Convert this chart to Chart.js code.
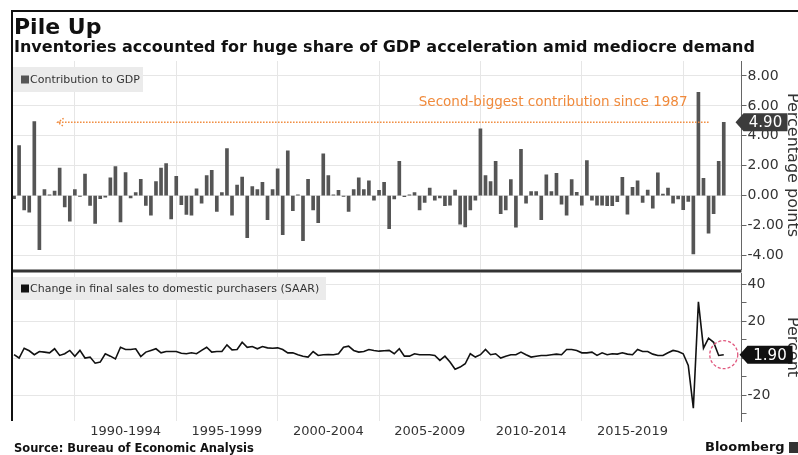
<!DOCTYPE html>
<html>
<head>
<meta charset="utf-8">
<script src="https://cdn.jsdelivr.net/npm/chart.js@4.4.1/dist/chart.umd.min.js"></script>
<style>
  html, body { margin: 0; padding: 0; background: #fff; }
  body { width: 798px; height: 455px; overflow: hidden; position: relative; font-family: "DejaVu Sans", sans-serif; color: #111; }
  canvas { position: absolute; left: 0; top: 0; }
  .frame-top { position: absolute; left: 11px; top: 10px; width: 787px; height: 2px; background: #111; }
  .frame-left { position: absolute; left: 11px; top: 10px; width: 2px; height: 411px; background: #111; }
  #title { position: absolute; left: 14px; top: 16px; font: bold 22px "DejaVu Sans"; line-height: 22px; white-space: nowrap; }
  #subtitle { position: absolute; left: 14px; top: 38.5px; font: bold 16px "DejaVu Sans"; line-height: 16px; white-space: nowrap; }
  #source { position: absolute; left: 14px; top: 443px; font: bold 11.5px "DejaVu Sans"; line-height: 11.5px; white-space: nowrap; }
  #brand { position: absolute; left: 705px; top: 440px; font: bold 13px "DejaVu Sans"; line-height: 13px; white-space: nowrap; }
  #logo { position: absolute; left: 789px; top: 442px; width: 10px; height: 11px; background: #333; }
</style>
</head>
<body>
<canvas id="top" width="802" height="455"></canvas>
<canvas id="bottom" width="802" height="455"></canvas>
<div class="frame-top"></div>
<div class="frame-left"></div>
<div id="title">Pile Up</div>
<div id="subtitle">Inventories accounted for huge share of GDP acceleration amid mediocre demand</div>
<div id="source">Source: Bureau of Economic Analysis</div>
<div id="brand">Bloomberg</div>
<div id="logo"></div>
<script>
// quarterly data, 1986 Q4 .. 2021 Q4 (bars sit at quarter end, like the original)
const contribution = [
  -0.2, 3.35, -0.95, -1.1, 4.95, -3.6, 0.4, 0.05, 0.3, 1.85,
  -0.75, -1.7, 0.4, -0.05, 1.45, -0.65, -1.85, -0.2, -0.1, 1.2,
  1.95, -1.75, 1.55, -0.15, 0.2, 1.1, -0.65, -1.3, 0.95, 1.85,
  2.15, -1.55, 1.3, -0.6, -1.25, -1.3, 0.45,
  -0.5, 1.35, 1.7, -1.05, 0.2, 3.15, -1.3, 0.7, 1.25, -2.8,
  0.6, 0.4, 0.9, -1.6, 0.4, 1.8, -2.6, 3.0, -1.0, 0.05,
  -3.0, 1.1, -0.95, -1.8, 2.8, 1.35, 0.05, 0.35, -0.05, -1.05,
  0.4, 1.2, 0.4, 1.0, -0.3, 0.35, 0.9,
  -2.2, -0.22, 2.3, -0.07, 0.05, 0.2, -0.96, -0.45, 0.5, -0.3,
  -0.15, -0.67, -0.63, 0.38, -1.9, -2.08, -0.96, -0.3, 4.47,
  1.35, 0.95, 2.3, -1.2, -0.96, 1.07, -2.1, 3.1, -0.5, 0.27,
  0.27, -1.6, 1.4, 0.27, 1.5, -0.56, -1.3,
  1.07, 0.22, -0.63, 2.35, -0.3, -0.63, -0.63, -0.67, -0.67, -0.4,
  1.23, -1.23, 0.56, 1.0, -0.45, 0.38, -0.83, 1.52, 0.1, 0.5,
  -0.5, -0.22, -0.94, -0.38, -3.9, 6.9, 1.16, -2.5, -1.2, 2.3,
  4.9
];

const finalSales = [
  1.9, 0.1, 5.4, 4.0, 1.9, 3.6, 3.3, 2.9, 5.1, 1.5,
  2.4, 4.2, 1.1, 4.2, 0.1, 0.6, -2.7, -2.1, 2.4, 1.1,
  -0.4, 5.9, 4.7, 4.7, 5.1, 0.9, 3.3, 4.2, 5.1, 2.9,
  3.6, 3.6, 3.6, 2.7, 2.4, 2.9, 2.4, 4.2, 5.9, 3.3,
  3.6, 3.6, 7.2, 4.5, 4.7, 8.6, 5.9, 6.3, 5.1, 6.3,
  5.6, 5.4, 5.6, 4.7, 2.9, 2.9, 1.9, 1.1, 0.6, 3.6,
  1.5, 1.9, 2.0, 1.9, 2.4, 5.9, 6.5, 4.2, 3.3, 3.6,
  4.7, 4.2, 3.8, 4.0, 4.2, 2.4,
  5.1, 1.1, 1.1, 2.4, 1.9, 1.9, 1.9, 1.5, -1.2, 1.1,
  -2.1, -6.0, -4.8, -3.0, 2.4, 0.6, 1.9, 4.7, 1.9, 2.4,
  0.1, 1.1, 1.9, 1.9, 3.3, 1.9, 0.6, 1.1, 1.5, 1.5,
  1.9, 2.2, 1.9, 4.7, 4.7, 4.2, 2.9, 2.9, 3.3, 1.5,
  2.9, 1.9, 2.4, 2.2, 2.9, 2.2, 1.9, 4.7, 3.6, 3.6,
  2.2, 1.5, 1.5, 2.9, 4.2, 3.6, 2.4,
  -3.9, -27, 30.4, 5.4, 10.8, 8.6, 1.5, 1.9
];

const firstYear = 1986, firstQuarter = 4;
const gridYears = [1990, 1995, 2000, 2005, 2010, 2015, 2020];
const periodLabels = ['1990-1994', '1995-1999', '2000-2004', '2005-2009', '2010-2014', '2015-2019'];
const topTicks = [-4, -3, -2, -1, 0, 1, 2, 3, 4, 5, 6, 7, 8];
const bottomTicks = [-30, -20, -10, 0, 10, 20, 30, 40];
const note = 'Second-biggest contribution since 1987';

const quarters = contribution.map((_, k) => {
  const q = firstQuarter - 1 + k;
  return `${firstYear + Math.floor(q / 4)} Q${q % 4 + 1}`;
});
const axisLabels = quarters.concat(['', '', '']);   // a little room after the last quarter
const gridIdx = gridYears.map(y => quarters.indexOf(`${y - 1} Q4`));
const labelAt = {};
periodLabels.forEach((txt, k) => { labelAt[quarters.indexOf(`${gridYears[k] + 2} Q2`)] = txt; });

const FONT = '"DejaVu Sans", sans-serif';
const AXIS_RIGHT = 741.5;
const CANVAS_W = 802;
const GRID = '#e6e6e6';

function xAxis(showLabels, height) {
  return {
    type: 'category',
    offset: true,
    grid: {
      offset: false,
      drawTicks: false,
      color: ctx => gridIdx.includes(ctx.index) ? GRID : 'transparent'
    },
    border: { display: false },
    ticks: {
      display: showLabels,
      autoSkip: false,
      maxRotation: 0,
      minRotation: 0,
      padding: 3,
      color: '#333',
      font: { family: FONT, size: 13 },
      callback: (v, i) => labelAt[i] || ''
    },
    afterFit: s => { s.height = height; }
  };
}

function yAxis(ticks, labelEvery, fmt, min, max, title) {
  return {
    position: 'right',
    min, max,
    afterBuildTicks: s => { s.ticks = ticks.map(v => ({ value: v })); },
    afterFit: s => { s.width = CANVAS_W - AXIS_RIGHT; },
    grid: {
      color: ctx => ctx.tick && ctx.tick.value % labelEvery === 0 ? GRID : 'transparent',
      tickColor: '#666',
      tickLength: 5
    },
    border: { color: '#666' },
    ticks: {
      padding: 1,
      color: '#333',
      font: { family: FONT, size: 14 },
      callback: v => v % labelEvery === 0 ? fmt(v) : ''
    },
    title: { display: true, text: title, color: '#333', padding: 0, font: { family: FONT, size: 16 } }
  };
}

function legendBox(ctx, x, y, w, h, text, swatch) {
  ctx.save();
  ctx.fillStyle = '#ebebeb';
  ctx.fillRect(x, y, w, h);
  ctx.fillStyle = swatch;
  ctx.fillRect(x + 8, y + h / 2 - 4, 8, 8);
  ctx.fillStyle = '#333';
  ctx.font = `11px ${FONT}`;
  ctx.textBaseline = 'middle';
  ctx.fillText(text, x + 17, y + h / 2 + 0.5);
  ctx.restore();
}

function valueTag(ctx, x, yc, w, text, fill) {
  ctx.save();
  ctx.fillStyle = fill;
  ctx.beginPath();
  ctx.moveTo(x, yc);
  ctx.lineTo(x + 8, yc - 9);
  ctx.lineTo(x + w, yc - 9);
  ctx.lineTo(x + w, yc + 9);
  ctx.lineTo(x + 8, yc + 9);
  ctx.closePath();
  ctx.fill();
  ctx.fillStyle = '#fff';
  ctx.font = `15px ${FONT}`;
  ctx.textBaseline = 'middle';
  ctx.textAlign = 'center';
  ctx.fillText(text, x + 8 + (w - 8) / 2, yc + 1);
  ctx.restore();
}

const topDecor = {
  id: 'topDecor',
  afterDraw(chart) {
    const { ctx, chartArea: a, scales: { x, y } } = chart;
    legendBox(ctx, a.left + 1.5, 67, 130, 25, 'Contribution to GDP', '#555');

    // dotted arrow back to the earlier peak
    const last = contribution[contribution.length - 1];
    const ly = y.getPixelForValue(last);
    const x0 = x.getPixelForValue(8.6), x1 = x.getPixelForValue(137);
    ctx.save();
    ctx.strokeStyle = '#f08a3c';
    ctx.lineWidth = 1.5;
    ctx.setLineDash([1.5, 1.5]);
    ctx.beginPath();
    ctx.moveTo(x1, ly); ctx.lineTo(x0, ly);
    ctx.moveTo(x0 + 6, ly - 4); ctx.lineTo(x0, ly); ctx.lineTo(x0 + 6, ly + 4);
    ctx.stroke();
    ctx.setLineDash([]);
    ctx.fillStyle = '#f08a3c';
    ctx.font = `13.5px ${FONT}`;
    ctx.textAlign = 'right';
    ctx.textBaseline = 'alphabetic';
    ctx.fillText(note, x1 - 21, ly - 16);
    ctx.restore();

    valueTag(ctx, a.right - 6, ly, 52, last.toFixed(2), '#3c3c3c');
  }
};

const bottomDecor = {
  id: 'bottomDecor',
  afterDraw(chart) {
    const { ctx, chartArea: a } = chart;
    ctx.save();
    ctx.fillStyle = '#333';
    ctx.fillRect(a.left, a.top - 3.5, a.right - a.left, 3);
    ctx.restore();
    legendBox(ctx, a.left + 1.5, 277, 313, 23, 'Change in final sales to domestic purchasers (SAAR)', '#111');

    const pts = chart.getDatasetMeta(0).data;
    const p = pts[pts.length - 1];
    ctx.save();
    ctx.strokeStyle = '#e0577d';
    ctx.lineWidth = 1.3;
    ctx.setLineDash([3, 2]);
    ctx.beginPath();
    ctx.arc(p.x, p.y, 14, 0, Math.PI * 2);
    ctx.stroke();
    ctx.restore();

    valueTag(ctx, a.right - 2, p.y, 53, finalSales[finalSales.length - 1].toFixed(2), '#111');
  }
};

new Chart(document.getElementById('top'), {
  type: 'bar',
  data: {
    labels: axisLabels,
    datasets: [{
      label: 'Contribution to GDP',
      data: contribution,
      backgroundColor: '#555',
      barThickness: 3
    }]
  },
  options: {
    responsive: false,
    animation: false,
    layout: { padding: { left: 11.5, right: 0, top: 61, bottom: 186 } },
    plugins: { legend: { display: false }, tooltip: { enabled: false } },
    scales: {
      x: xAxis(false, 0),
      y: yAxis(topTicks, 2, v => v.toFixed(2), -4.9, 9, 'Percentage points')
    }
  },
  plugins: [topDecor]
});

new Chart(document.getElementById('bottom'), {
  type: 'line',
  data: {
    labels: axisLabels,
    datasets: [{
      label: 'Change in final sales to domestic purchasers (SAAR)',
      data: finalSales,
      borderColor: '#111',
      borderWidth: 1.6,
      pointRadius: 0,
      tension: 0
    }]
  },
  options: {
    responsive: false,
    animation: false,
    layout: { padding: { left: 11.5, right: 0, top: 273, bottom: 0 } },
    plugins: { legend: { display: false }, tooltip: { enabled: false } },
    scales: {
      x: xAxis(true, 34),
      y: yAxis(bottomTicks, 20, v => String(v), -33.9, 46, 'Percent')
    }
  },
  plugins: [bottomDecor]
});
</script>
</body>
</html>
